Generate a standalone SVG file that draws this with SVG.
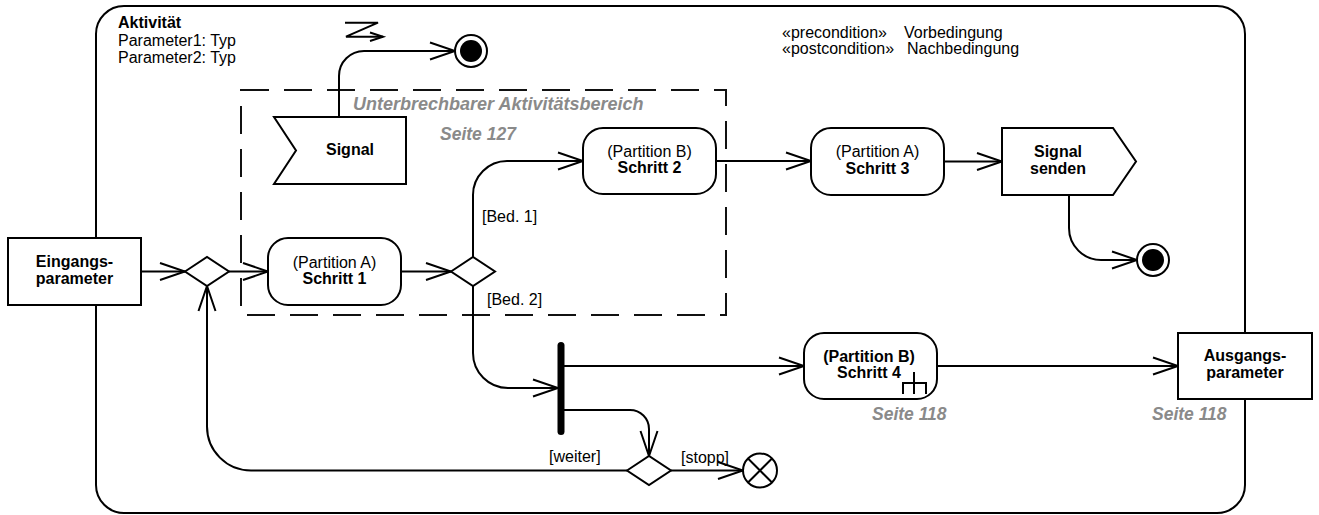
<svg xmlns="http://www.w3.org/2000/svg" width="1319" height="515" viewBox="0 0 1319 515">
<style>
text{font-family:"Liberation Sans",Arial,sans-serif;font-size:16px;fill:#000}
.b{font-weight:bold}
.c{text-anchor:middle}
.g{font-weight:bold;font-style:italic;fill:#8a8a8a}
.node{fill:#fff;stroke:#000;stroke-width:2}
.edge{fill:none;stroke:#000;stroke-width:2}
</style>
<defs>
<marker id="arr" markerUnits="userSpaceOnUse" markerWidth="30" markerHeight="22" viewBox="-27 -11 30 22" refX="0" refY="0" orient="auto">
<path d="M-25,-8.5 L0,0 L-25,8.5" fill="none" stroke="#000" stroke-width="2"/>
</marker>
</defs>
<g id="frame">
<rect x="96" y="6" width="1149" height="507" rx="28" fill="none" stroke="#000" stroke-width="2"/>
<text x="118" y="28" class="b">Aktivität</text>
<text x="118" y="46">Parameter1: Typ</text>
<text x="118" y="63">Parameter2: Typ</text>
<text x="782" y="38">«precondition»</text>
<text x="904" y="38">Vorbedingung</text>
<text x="782" y="54">«postcondition»</text>
<text x="907" y="54">Nachbedingung</text>
</g>
<g id="interruptible-region">
<rect x="241" y="90" width="485" height="225" fill="none" stroke="#111" stroke-width="2" stroke-dasharray="28 15"/>
<text x="353" y="110" class="g" style="font-size:18px">Unterbrechbarer Aktivitätsbereich</text>
<text x="440" y="140" class="g" style="font-size:17.5px">Seite 127</text>
</g>
<g id="connectors">
<path class="edge" d="M141,271.5 H185" marker-end="url(#arr)"/>
<path class="edge" d="M229,271.5 H268" marker-end="url(#arr)"/>
<path class="edge" d="M401,271.5 H451" marker-end="url(#arr)"/>
<path class="edge" d="M473,257 V195 A34,34 0 0 1 507,161 H583" marker-end="url(#arr)"/>
<path class="edge" d="M716,161 H811" marker-end="url(#arr)"/>
<path class="edge" d="M944,161.5 H1002" marker-end="url(#arr)"/>
<path class="edge" d="M1069,195 V228 A32,32 0 0 0 1101,260 H1137" marker-end="url(#arr)"/>
<path class="edge" d="M339,117 V76 A25,25 0 0 1 364,51 H455" marker-end="url(#arr)"/>
<path class="edge" d="M473,286 V353 A35,35 0 0 0 508,388 H558" marker-end="url(#arr)"/>
<path class="edge" d="M563,366 H804" marker-end="url(#arr)"/>
<path class="edge" d="M937,366 H1178" marker-end="url(#arr)"/>
<path class="edge" d="M563,410 H630 A19,19 0 0 1 649,429 V456" marker-end="url(#arr)"/>
<path class="edge" d="M671,470.5 H743" marker-end="url(#arr)"/>
<path class="edge" d="M627,470.5 H251 A44,44 0 0 1 207,426.5 V286" marker-end="url(#arr)"/>
<path class="edge" d="M345,22.7 H378 L346,36.7 H383"/>
<path class="edge" d="M370,32.5 L383,36.7 L370,41"/>
<text x="482" y="222">[Bed. 1]</text>
<text x="487" y="305">[Bed. 2]</text>
<text x="549" y="462">[weiter]</text>
<text x="681" y="463">[stopp]</text>
</g>
<g id="eingangsparameter">
<rect class="node" x="8" y="238" width="133" height="67"/>
<text x="74.5" y="267" class="b c">Eingangs-</text>
<text x="74.5" y="284" class="b c">parameter</text>
</g>
<g id="decision1">
<polygon class="node" points="185,271.5 207,257 229,271.5 207,286"/>
</g>
<g id="schritt1">
<rect class="node" x="268" y="238" width="133" height="67" rx="20"/>
<text x="334.5" y="268" class="c">(Partition A)</text>
<text x="334.5" y="284" class="b c">Schritt 1</text>
</g>
<g id="decision2">
<polygon class="node" points="451,271.5 473,257 495,271.5 473,286"/>
</g>
<g id="signal">
<path class="node" d="M274,117 H406 V184 H274 L296,150.5 Z"/>
<text x="350" y="155" class="b c">Signal</text>
</g>
<g id="final1">
<circle cx="471" cy="51" r="16" fill="#fff" stroke="#000" stroke-width="2"/>
<circle cx="471" cy="51" r="11" fill="#000"/>
</g>
<g id="schritt2">
<rect class="node" x="583" y="128" width="133" height="66" rx="20"/>
<text x="649.5" y="157" class="c">(Partition B)</text>
<text x="649.5" y="173" class="b c">Schritt 2</text>
</g>
<g id="schritt3">
<rect class="node" x="811" y="128" width="133" height="67" rx="20"/>
<text x="877.5" y="157" class="c">(Partition A)</text>
<text x="877.5" y="174" class="b c">Schritt 3</text>
</g>
<g id="signal-senden">
<path class="node" d="M1002,128 H1113 L1136,161.5 L1113,195 H1002 Z"/>
<text x="1058" y="157" class="b c">Signal</text>
<text x="1058" y="174" class="b c">senden</text>
</g>
<g id="final2">
<circle cx="1153" cy="260" r="16" fill="#fff" stroke="#000" stroke-width="2"/>
<circle cx="1153" cy="260" r="11" fill="#000"/>
</g>
<g id="fork">
<rect x="557.5" y="342" width="7" height="93" rx="3.5" fill="#000"/>
</g>
<g id="schritt4">
<rect class="node" x="804" y="333" width="133" height="66" rx="20"/>
<text x="869" y="362" class="b c">(Partition B)</text>
<text x="869" y="378" class="b c">Schritt 4</text>
<path class="edge" d="M914,372 V394 M903,394 V383 H926 V394"/>
<text x="872" y="420" class="g" style="font-size:17.5px">Seite 118</text>
</g>
<g id="ausgangsparameter">
<rect class="node" x="1178" y="333" width="134" height="66"/>
<text x="1245" y="361" class="b c">Ausgangs-</text>
<text x="1245" y="378" class="b c">parameter</text>
<text x="1152" y="420" class="g" style="font-size:17.5px">Seite 118</text>
</g>
<g id="merge">
<polygon class="node" points="627,470.5 649,456 671,470.5 649,485"/>
</g>
<g id="flow-final">
<circle cx="760" cy="470.5" r="17" fill="#fff" stroke="#000" stroke-width="2"/>
<path class="edge" d="M748,458.5 L772,482.5 M772,458.5 L748,482.5"/>
</g>
</svg>
